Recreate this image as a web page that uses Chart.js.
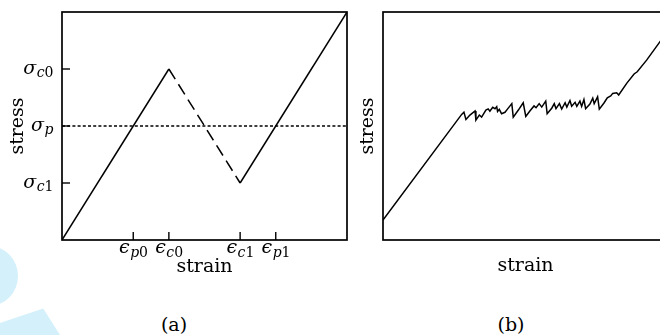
<!DOCTYPE html>
<html>
<head>
<meta charset="utf-8">
<script src="https://cdn.jsdelivr.net/npm/chart.js@4.4.1/dist/chart.umd.min.js"></script>
<style>
  html, body { margin: 0; padding: 0; background: #fff; width: 660px; height: 335px; overflow: hidden; position: relative; }
  canvas { position: absolute; top: 0; }
  #chartA { left: 0; }
  #chartB { left: 355px; }
  .cap { position: absolute; top: 313px; font: 19px "DejaVu Serif", serif; color: #000; transform: translateX(-50%); }
  .blob1 { position: absolute; left: -40px; top: 246px; width: 58px; height: 60px; border-radius: 50%; background: #d3f0fb; }
  .blob2 { position: absolute; left: 0; top: 305px; width: 60px; height: 30px; background: #d3f0fb; clip-path: polygon(0 100%, 0 60%, 72% 12%, 100% 100%); }
</style>
</head>
<body>
<div class="blob1"></div>
<div class="blob2"></div>
<canvas id="chartA" width="355" height="285"></canvas>
<canvas id="chartB" width="330" height="285"></canvas>
<div class="cap" style="left:174px">(a)</div>
<div class="cap" style="left:511px">(b)</div>
<script>
// panel (a): idealised stress-strain path, normalised units
const strainA = [0, 0.375, 0.625, 1];
const stressA = [0, 0.75, 0.25, 1];
const sigmaP = 0.5;

// tick positions and their math labels
const strainTicks = [0.25, 0.375, 0.625, 0.75];
const strainTickSub = ['p0', 'c0', 'c1', 'p1'];
const stressTicks = [0.75, 0.5, 0.25];
const stressTickSub = ['c0', 'p', 'c1'];

// panel (b): serrated plateau (arbitrary units)
const strainB = [0, 27.6, 28.4, 29.1, 30.5, 32.3, 32.6, 33.8, 34.6, 36.1, 36.9, 37.5, 38.5, 39.3, 39.9, 40.2,
  40.8, 41.6, 42.8, 43.6, 45.2, 45.7, 47.5, 49.2, 50.1, 51.6, 53.0, 53.7, 54.8, 55.7, 57.1, 57.6, 59.2,
  60.1, 60.7, 61.9, 62.7, 63.9, 64.5, 65.6, 66.2, 67.4, 68.0, 69.1, 69.7, 70.5, 71.1, 72.6, 73.6, 74.1,
  75.3, 75.9, 77.6, 78.7, 79.9, 80.6, 82.0, 82.7, 85.5, 88.1, 89.2, 92.5, 97.2, 100];
const stressB = [8.8, 55.1, 56.1, 52.9, 54.8, 56.6, 52.6, 54.8, 53.9, 57.0, 57.5, 56.5, 58.2, 57.6, 58.5, 56.4,
  57.3, 55.4, 56.0, 57.3, 59.8, 53.9, 57.0, 60.2, 54.2, 56.7, 58.8, 58.0, 59.8, 58.3, 60.9, 55.4, 57.8,
  59.8, 57.6, 59.8, 57.4, 60.2, 58.3, 61.2, 58.7, 60.4, 58.6, 60.9, 58.6, 61.6, 57.6, 59.6, 62.2, 59.8,
  62.8, 57.4, 60.2, 62.4, 63.2, 64.3, 64.6, 63.6, 68.7, 72.8, 73.8, 78.9, 87.0, 91.7];

const FONT = '"DejaVu Serif", serif';

function pts(xs, ys) {
  return xs.map((x, i) => ({x: x, y: ys[i]}));
}

// full box round the plot area
const framePlugin = {
  id: 'frame',
  afterDraw(chart) {
    const {ctx, chartArea: a} = chart;
    ctx.save();
    ctx.strokeStyle = '#000';
    ctx.lineWidth = 1.7;
    ctx.strokeRect(a.left, a.top, a.right - a.left, a.bottom - a.top);
    ctx.restore();
  }
};

// symbol with subscript, letters italic and digits upright
function drawSymbol(ctx, sym, sub, x, y, subDy, align) {
  const symFont = 'italic 19px ' + FONT;
  const parts = sub.split('').map(ch => ({
    ch: ch,
    font: (/[0-9]/.test(ch) ? '' : 'italic ') + '14px ' + FONT
  }));
  ctx.font = symFont;
  let w = ctx.measureText(sym).width;
  parts.forEach(p => { ctx.font = p.font; p.w = ctx.measureText(p.ch).width; w += p.w; });
  let cx = align === 'right' ? x - w : x - w / 2;
  ctx.textBaseline = 'alphabetic';
  ctx.textAlign = 'left';
  ctx.font = symFont;
  ctx.fillText(sym, cx, y);
  cx += ctx.measureText(sym).width + 0.5;
  parts.forEach(p => { ctx.font = p.font; ctx.fillText(p.ch, cx, y + subDy); cx += p.w; });
}

// inward ticks plus sigma / epsilon labels for panel (a)
const mathTicks = {
  id: 'mathTicks',
  afterDraw(chart) {
    const {ctx, chartArea: a, scales: {x, y}} = chart;
    ctx.save();
    ctx.strokeStyle = '#000';
    ctx.fillStyle = '#000';
    ctx.lineWidth = 1.4;
    strainTicks.forEach((v, i) => {
      const px = x.getPixelForValue(v);
      ctx.beginPath();
      ctx.moveTo(px, a.bottom);
      ctx.lineTo(px, a.bottom - 8);
      ctx.stroke();
      drawSymbol(ctx, '\u03F5', strainTickSub[i], px, a.bottom + 13, 4, 'center');
    });
    stressTicks.forEach((v, i) => {
      const py = y.getPixelForValue(v);
      ctx.beginPath();
      ctx.moveTo(a.left, py);
      ctx.lineTo(a.left + 8, py);
      ctx.stroke();
      drawSymbol(ctx, '\u03C3', stressTickSub[i], a.left - 9, py + 5, 3, 'right');
    });
    ctx.restore();
  }
};

function axisOpts(min, max, text, titlePad, size) {
  return {
    type: 'linear',
    min: min,
    max: max,
    ticks: {display: false},
    grid: {display: false},
    border: {display: false},
    title: {display: true, text: text, color: '#000', font: {family: FONT, size: 19}, padding: titlePad},
    afterFit: s => { if (s.isHorizontal()) s.height = size; else s.width = size; }
  };
}

const chartA = new Chart(document.getElementById('chartA'), {
  type: 'scatter',
  data: {
    datasets: [{
      data: pts(strainA, stressA),
      showLine: true,
      borderColor: '#000',
      borderWidth: 1.5,
      pointRadius: 0,
      segment: {borderDash: c => c.p0DataIndex === 1 ? [12, 6] : undefined}
    }, {
      data: pts([0, 1], [sigmaP, sigmaP]),
      showLine: true,
      borderColor: '#000',
      borderWidth: 1.4,
      borderDash: [3, 2.2],
      pointRadius: 0
    }]
  },
  options: {
    responsive: false,
    animation: false,
    devicePixelRatio: 1,
    layout: {padding: {top: 12, right: 8, left: 0, bottom: 0}},
    plugins: {legend: {display: false}, tooltip: {enabled: false}},
    scales: {
      x: axisOpts(0, 1, 'strain', {top: 0, bottom: 7}, 45),
      y: axisOpts(0, 1, 'stress', {top: 6.6, bottom: 0}, 62)
    }
  },
  plugins: [framePlugin, mathTicks]
});

const chartB = new Chart(document.getElementById('chartB'), {
  type: 'scatter',
  data: {
    datasets: [{
      data: pts(strainB, stressB),
      showLine: true,
      borderColor: '#000',
      borderWidth: 1.5,
      pointRadius: 0
    }]
  },
  options: {
    responsive: false,
    animation: false,
    devicePixelRatio: 1,
    layout: {padding: {top: 12, right: 17, left: 0, bottom: 0}},
    plugins: {legend: {display: false}, tooltip: {enabled: false}},
    scales: {
      x: axisOpts(0, 100, 'strain', {top: 0, bottom: 8}, 45),
      y: axisOpts(0, 100, 'stress', {top: 1.6, bottom: 0}, 28)
    }
  },
  plugins: [framePlugin]
});
</script>
</body>
</html>
